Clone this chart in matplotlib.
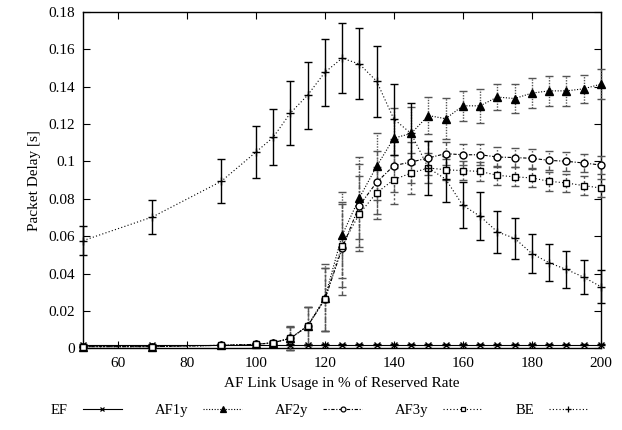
import matplotlib
matplotlib.use("Agg")
import matplotlib.pyplot as plt
from matplotlib.lines import Line2D
import numpy as np

plt.rcParams['font.family'] = ['Liberation Serif', 'DejaVu Serif']

# x positions (AF link usage in % of reserved rate)
x = [50, 70, 90, 100, 105, 110, 115, 120, 125, 130, 135, 140, 145, 150,
     155, 160, 165, 170, 175, 180, 185, 190, 195, 200]

ef = [0.0020] * 24
ef_err = [0.0002] * 24

af1 = [0.0009, 0.0009, 0.0016, 0.0021, 0.0030, 0.0054, 0.0120, 0.0270,
       0.0605, 0.0805, 0.0974, 0.1125, 0.1150, 0.1246, 0.1229, 0.1298,
       0.1298, 0.1345, 0.1337, 0.1366, 0.1378, 0.1378, 0.1389, 0.1414]
af1_err = [0.0004, 0.0004, 0.0005, 0.0006, 0.0010, 0.0065, 0.0100, 0.0180,
           0.0230, 0.0220, 0.0180, 0.0160, 0.0140, 0.0100, 0.0110, 0.0080,
           0.0090, 0.0070, 0.0080, 0.0080, 0.0080, 0.0080, 0.0076, 0.0080]

af2 = [0.0009, 0.0009, 0.0016, 0.0021, 0.0030, 0.0053, 0.0119, 0.0262,
       0.0535, 0.0764, 0.0888, 0.0978, 0.0997, 0.1019, 0.1042, 0.1036,
       0.1036, 0.1024, 0.1021, 0.1017, 0.1006, 0.1001, 0.0992, 0.0981]
af2_err = [0.0004, 0.0004, 0.0005, 0.0006, 0.0010, 0.0060, 0.0100, 0.0170,
           0.0250, 0.0220, 0.0170, 0.0140, 0.0110, 0.0090, 0.0060, 0.0055,
           0.0055, 0.0055, 0.0050, 0.0050, 0.0050, 0.0050, 0.0050, 0.0050]

af3 = [0.0009, 0.0009, 0.0016, 0.0021, 0.0030, 0.0053, 0.0119, 0.0262,
       0.0550, 0.0720, 0.0832, 0.0903, 0.0938, 0.0965, 0.0956, 0.0951,
       0.0947, 0.0926, 0.0918, 0.0912, 0.0894, 0.0885, 0.0871, 0.0858]
af3_err = [0.0004, 0.0004, 0.0005, 0.0006, 0.0010, 0.0060, 0.0100, 0.0170,
           0.0220, 0.0200, 0.0140, 0.0130, 0.0110, 0.0080, 0.0055, 0.0050,
           0.0050, 0.0050, 0.0050, 0.0050, 0.0050, 0.0050, 0.0050, 0.0050]

be = [0.0577, 0.0703, 0.0894, 0.1050, 0.1129, 0.1259, 0.1355, 0.1477,
      0.1553, 0.1522, 0.1430, 0.1227, 0.1150, 0.0965, 0.0906, 0.0765,
      0.0707, 0.0623, 0.0589, 0.0507, 0.0458, 0.0422, 0.0381, 0.0330]
be_err = [0.0077, 0.0090, 0.0118, 0.0139, 0.0150, 0.0170, 0.0180, 0.0180,
          0.0187, 0.0190, 0.0190, 0.0190, 0.0165, 0.0147, 0.0125, 0.0123,
          0.0127, 0.0113, 0.0110, 0.0105, 0.0100, 0.0100, 0.0090, 0.0090]

labels = ["EF", "AF1y", "AF2y", "AF3y", "BE"]

fig = plt.figure(figsize=(6.22, 4.30), dpi=100)
ax = fig.add_axes([0.134, 0.19, 0.832, 0.782])

styles = [
    dict(y=ef, e=ef_err, ls='-', marker='x', ms=5, mfc='black', bls='-'),
    dict(y=af1, e=af1_err, ls=(0, (1, 1.5)), marker='^', ms=5.5, mfc='black', bls=(0, (1, 1))),
    dict(y=af2, e=af2_err, ls=(0, (3, 1.5, 1, 1.5)), marker='o', ms=5, mfc='white', bls=(0, (3, 1.5, 1, 1.5))),
    dict(y=af3, e=af3_err, ls=(0, (1, 2)), marker='s', ms=5, mfc='white', bls=(0, (1.5, 1.5))),
    dict(y=be, e=be_err, ls=(0, (1, 2)), marker='+', ms=6, mfc='black', bls='-'),
]

handles = []
for s, lab in zip(styles, labels):
    ebar_color = 'black' if s['bls'] == '-' else '#555555'
    cont = ax.errorbar(x, s['y'], yerr=s['e'], color='black', ls=s['ls'], lw=0.8,
                       marker=s['marker'], ms=s['ms'], mfc=s['mfc'], mec='black', mew=1.0,
                       ecolor=ebar_color, elinewidth=1.0, capsize=3, capthick=1.0,
                       clip_on=False, zorder=3)
    for bl in cont[2]:
        bl.set_linestyle(s['bls'])
    handles.append(Line2D([], [], color='black', ls=s['ls'], lw=0.8, marker=s['marker'],
                          ms=s['ms'] - 1.5, mfc=s['mfc'], mec='black', mew=0.9))

ax.set_xlim(50, 200)
ax.set_ylim(0, 0.18)
ax.set_xticks([60, 80, 100, 120, 140, 160, 180, 200])
ax.set_yticks([0, 0.02, 0.04, 0.06, 0.08, 0.1, 0.12, 0.14, 0.16, 0.18])
ax.set_yticklabels(['0', '0.02', '0.04', '0.06', '0.08', '0.1', '0.12', '0.14', '0.16', '0.18'])
ax.tick_params(direction='in', top=True, right=True, length=5, width=0.8, labelsize=11, pad=6)
for sp in ax.spines.values():
    sp.set_linewidth(1.0)

ax.set_xlabel("AF Link Usage in % of Reserved Rate", fontsize=11, labelpad=5)
ax.set_ylabel("Packet Delay [s]", fontsize=11, labelpad=5)

fig.legend(handles, labels, ncol=5, markerfirst=False, frameon=False,
           loc='center left', bbox_to_anchor=(0.082, 1 - 410 / 430),
           borderaxespad=0, borderpad=0,
           fontsize=10.5, handlelength=2.7, handletextpad=1.0, columnspacing=2.25)

fig.savefig("out.png", dpi=100)
